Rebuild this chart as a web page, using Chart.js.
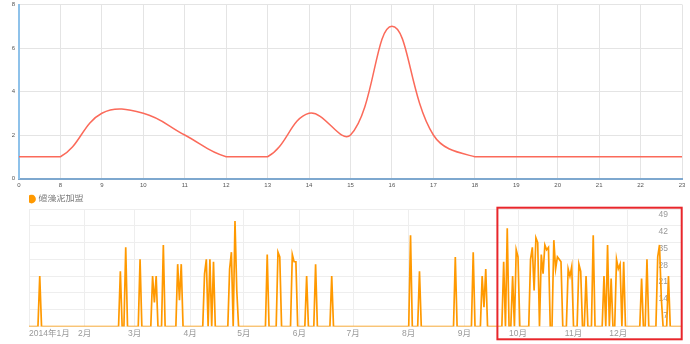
<!DOCTYPE html>
<html>
<head>
<meta charset="utf-8">
<script src="https://cdn.jsdelivr.net/npm/chart.js@4.4.1/dist/chart.umd.min.js"></script>
<style>
  html, body { margin: 0; padding: 0; background: #fff; }
  #wrap { position: relative; width: 690px; height: 344px; overflow: hidden; }
  #hourChart { position: absolute; left: 0; top: 0; }
  #dayChart { position: absolute; left: 0; top: 186px; }
</style>
</head>
<body>
<div id="wrap">
  <canvas id="hourChart" width="690" height="192"></canvas>
  <canvas id="dayChart" width="690" height="158"></canvas>
</div>
<script>
// Top chart: values per hour
const hourLabels = ['0', '8', '9', '10', '11', '12', '13', '14', '15', '16', '17', '18', '19', '20', '21', '22', '23'];
const hourValues = [1, 1, 3, 3, 2, 1, 1, 3, 2, 7, 2, 1, 1, 1, 1, 1, 1];

// Bottom chart: daily values for 2014, one row per month
const seriesName = '碴藻泥加盟';
const dailyOrders = [
  0, 0, 0, 0, 0, 0, 21, 0, 0, 0, 0, 0, 0, 0, 0, 0, 0, 0, 0, 0, 0, 0, 0, 0, 0, 0, 0, 0, 0, 0, 0, // Jan
  0, 0, 0, 0, 0, 0, 0, 0, 0, 0, 0, 0, 0, 0, 0, 0, 0, 0, 0, 0, 23, 0, 0, 33, 0, 0, 0, 0, // Feb
  0, 0, 0, 28, 0, 0, 0, 0, 0, 0, 21, 10, 21, 0, 0, 0, 34, 0, 0, 0, 0, 0, 0, 0, 26, 11, 26, 0, 0, 0, 0, // Mar
  0, 0, 0, 0, 0, 0, 0, 0, 22, 28, 0, 28, 0, 27, 0, 0, 0, 0, 0, 0, 0, 0, 24, 31, 0, 44, 15, 0, 0, 0, // Apr
  0, 0, 0, 0, 0, 0, 0, 0, 0, 0, 0, 0, 0, 30, 0, 0, 0, 0, 0, 31, 29, 0, 0, 0, 0, 0, 0, 30, 27, 27, 0, // May
  0, 0, 0, 0, 21, 0, 0, 0, 0, 26, 0, 0, 0, 0, 0, 0, 0, 0, 21, 0, 0, 0, 0, 0, 0, 0, 0, 0, 0, 0, // Jun
  0, 0, 0, 0, 0, 0, 0, 0, 0, 0, 0, 0, 0, 0, 0, 0, 0, 0, 0, 0, 0, 0, 0, 0, 0, 0, 0, 0, 0, 0, 0, // Jul
  0, 38, 0, 0, 0, 0, 23, 0, 0, 0, 0, 0, 0, 0, 0, 0, 0, 0, 0, 0, 0, 0, 0, 0, 0, 0, 29, 0, 0, 0, 0, // Aug
  0, 0, 0, 0, 0, 31, 0, 0, 0, 0, 21, 8, 24, 0, 0, 0, 0, 0, 0, 0, 0, 0, 27, 0, 41, 0, 0, 21, 0, 32, // Sep
  29, 0, 0, 0, 0, 0, 0, 28, 33, 15, 37, 35, 0, 30, 22, 34, 32, 33, 0, 0, 36, 24, 29, 28, 27, 0, 0, 0, 24, 21, 25, // Oct
  0, 0, 0, 26, 23, 0, 0, 21, 0, 0, 0, 38, 0, 0, 0, 0, 0, 21, 0, 34, 0, 20, 0, 0, 28, 24, 26, 0, 27, 0, // Nov
  0, 0, 0, 0, 0, 0, 0, 0, 20, 0, 0, 28, 0, 0, 0, 0, 0, 29, 34, 12, 0, 0, 0, 21, 0, 0, 0, 0, 0, 0, 0  // Dec
];
const monthStarts = [0, 31, 59, 90, 120, 151, 181, 212, 243, 273, 304, 334];
const monthLabels = ['2014年1月', '2月', '3月', '4月', '5月', '6月', '7月', '8月', '9月', '10月', '11月', '12月'];
const dayTicks = [0, 7, 14, 21, 28, 35, 42, 49];
const highlightFrom = 261.5; // day index where the red box starts

Chart.defaults.font.family = "'Liberation Sans', 'Noto Sans CJK SC', sans-serif";
Chart.defaults.animation = false;

// keep the smoothed curve from dipping under its lowest value
const flatFloor = {
  id: 'flatFloor',
  beforeDatasetDraw(chart, args) {
    const meta = args.meta;
    const line = meta.dataset;
    if (!line || !line.updateControlPoints) return;
    line.updateControlPoints(chart.chartArea, meta.indexAxis);
    const floor = chart.scales.y.getPixelForValue(Math.min(...hourValues));
    meta.data.forEach(p => {
      if (p.cp1y > floor) p.cp1y = floor;
      if (p.cp2y > floor) p.cp2y = floor;
    });
  }
};

new Chart(document.getElementById('hourChart'), {
  type: 'line',
  data: {
    labels: hourLabels,
    datasets: [{
      data: hourValues,
      borderColor: '#fb6a5a',
      borderWidth: 1.5,
      pointRadius: 0,
      tension: 0.4,
      fill: false
    }]
  },
  options: {
    responsive: false,
    layout: { padding: { top: 4.5, right: 8, left: 0, bottom: 0 } },
    plugins: { legend: { display: false }, tooltip: { enabled: false } },
    scales: {
      x: {
        grid: { color: '#e4e4e4', drawTicks: false },
        border: { color: '#7ea8cf', width: 2 },
        ticks: { font: { size: 6 }, color: '#555', padding: 3, autoSkip: false, maxRotation: 0 },
        afterFit: s => { s.height = 13.5; }
      },
      y: {
        min: 0,
        max: 8,
        grid: { color: '#e4e4e4', drawTicks: false },
        border: { color: '#8fc2ea', width: 2 },
        ticks: { stepSize: 2, font: { size: 6 }, color: '#555', padding: 4 },
        afterFit: s => { s.width = 19; s.paddingTop = 0; s.paddingBottom = 0; }
      }
    }
  },
  plugins: [flatFloor]
});

// fixed legend height so the plot lines up
const legendHeight = {
  id: 'legendHeight',
  beforeInit(chart) {
    const fit = chart.legend.fit;
    chart.legend.fit = function () {
      fit.call(this);
      this.height = 14.5;
    };
  }
};

// red highlight box
const highlightBox = {
  id: 'highlightBox',
  afterDraw(chart) {
    const { ctx, chartArea, scales } = chart;
    const left = scales.x.getPixelForValue(highlightFrom);
    ctx.save();
    ctx.strokeStyle = '#e8262b';
    ctx.lineWidth = 2;
    ctx.strokeRect(left, chartArea.top - 1.3, chartArea.right + 0.7 - left, chartArea.bottom + 12.8 - (chartArea.top - 1.3));
    ctx.restore();
  }
};

new Chart(document.getElementById('dayChart'), {
  type: 'line',
  data: {
    datasets: [{
      label: seriesName,
      data: dailyOrders.map((v, i) => ({ x: i, y: v })),
      borderColor: '#ff9900',
      backgroundColor: '#ff9900',
      borderWidth: 1.7,
      pointRadius: 0,
      tension: 0,
      fill: false
    }]
  },
  options: {
    responsive: false,
    layout: { padding: { top: 8.5, left: 29, right: 0, bottom: 0 } },
    plugins: {
      tooltip: { enabled: false },
      legend: {
        align: 'start',
        labels: {
          usePointStyle: true,
          pointStyle: 'circle',
          boxWidth: 5,
          boxHeight: 5,
          padding: 0,
          color: '#777',
          font: { size: 9 }
        }
      }
    },
    scales: {
      x: {
        type: 'linear',
        min: 0,
        max: dailyOrders.length - 1,
        afterBuildTicks: s => { s.ticks = monthStarts.map(v => ({ value: v })); },
        grid: { color: '#eeeeee', drawTicks: false },
        border: { display: false },
        ticks: {
          align: 'inner',
          autoSkip: false,
          maxRotation: 0,
          padding: 2,
          color: '#999',
          font: { size: 8.5 },
          callback: v => monthLabels[monthStarts.indexOf(v)]
        },
        afterFit: s => { s.height = 17.5; }
      },
      y: {
        position: 'right',
        min: 0,
        max: 49,
        afterBuildTicks: s => { s.ticks = dayTicks.map(v => ({ value: v })); },
        grid: { color: '#eeeeee', drawTicks: false },
        border: { display: false },
        ticks: {
          mirror: true,
          padding: -13,
          labelOffset: 6,
          color: '#999',
          font: { size: 8.5 },
          callback: v => (v === 0 ? '' : v)
        },
        afterFit: s => { s.width = 9; }
      }
    }
  },
  plugins: [legendHeight, highlightBox]
});
</script>
</body>
</html>
